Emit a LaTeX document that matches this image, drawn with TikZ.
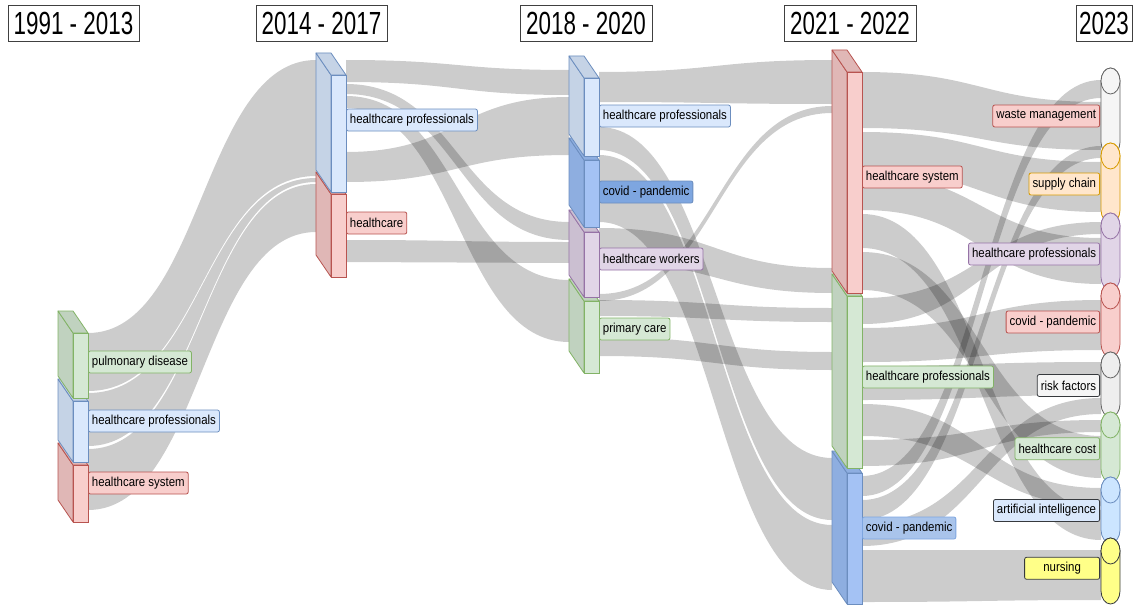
\documentclass[tikz,border=0pt]{standalone}
\usepackage{fontspec}
\setmainfont{Liberation Sans}
\newfontfamily\hdrfont[FakeStretch=0.70]{Liberation Sans}
\newfontfamily\lblfont[FakeStretch=0.88]{Liberation Sans}
\definecolor{hpF}{HTML}{DAE8FC}\definecolor{hpS}{HTML}{C5D3E6}\definecolor{hpD}{HTML}{6C8EBF}
\definecolor{rdF}{HTML}{F8CECC}\definecolor{rdS}{HTML}{E0B7B6}\definecolor{rdD}{HTML}{B85450}
\definecolor{gnF}{HTML}{D5E8D4}\definecolor{gnS}{HTML}{C0D2BF}\definecolor{gnD}{HTML}{82B366}
\definecolor{cvF}{HTML}{A4C2F4}\definecolor{cvS}{HTML}{8EAEE0}\definecolor{cvD}{HTML}{6C8EBF}
\definecolor{cvL}{HTML}{7EA6E0}\definecolor{cvL2}{HTML}{A9C4EB}
\definecolor{puF}{HTML}{E1D5E7}\definecolor{puS}{HTML}{CBBFD1}\definecolor{puD}{HTML}{9673A6}
\definecolor{wsF}{HTML}{F5F5F5}\definecolor{wsD}{HTML}{666666}
\definecolor{orF}{HTML}{FFE6CC}\definecolor{orD}{HTML}{D79B00}
\definecolor{rkF}{HTML}{EEEEEE}
\definecolor{aiF}{HTML}{CCE5FF}\definecolor{dkD}{HTML}{36393D}
\definecolor{ylF}{HTML}{FFFF88}
\tikzset{
  flowfill/.style={fill=black, fill opacity=0.2},
  lbl/.style={font=\lblfont\fontsize{13}{15}\selectfont, rounded corners=2pt, minimum height=22pt,
    inner xsep=3.5pt, inner ysep=0pt, line width=0.8pt, text=black},
  hdr/.style={font=\hdrfont\fontsize{32}{34}\selectfont, draw=black!75, fill=white, line width=0.9pt,
    minimum height=36pt, inner xsep=0pt, inner ysep=0pt}
}
% band from (x1, y1t..y1b) to (x2, y2t..y2b)
\newcommand{\flowband}[6]{%
  \fill[flowfill] (#1,#2) .. controls ({(#1+#4)/2},#2) and ({(#1+#4)/2},#5) .. (#4,#5)
    -- (#4,#6) .. controls ({(#1+#4)/2},#6) and ({(#1+#4)/2},#3) .. (#1,#3) -- cycle;}
% 3D bar: front x, top, bottom, front fill, side fill, border
\newcommand{\blockbar}[6]{%
  \filldraw[draw=#6, fill=#5, line width=0.8pt, line join=round] (#1-15,#2-22) -- (#1,#2) -- (#1,#3) -- (#1-15,#3-22) -- cycle;
  \filldraw[draw=#6, fill=#5, line width=0.8pt, line join=round] (#1-15,#2-22) -- (#1,#2-22) -- (#1+15,#2) -- (#1,#2) -- cycle;
  \filldraw[draw=#6, fill=#4, line width=0.8pt] (#1,#2) rectangle (#1+15,#3);}
% cylinder: top, bottom, fill, border
\newcommand{\cylbar}[4]{%
  \filldraw[fill=#3, draw=#4, line width=0.8pt] (1101,#1+13) -- (1101,#2-13)
    arc[start angle=180, end angle=360, x radius=9.5pt, y radius=13pt] -- (1120,#1+13)
    arc[start angle=0, end angle=180, x radius=9.5pt, y radius=13pt] -- cycle;
  \filldraw[fill=#3, draw=#4, line width=0.8pt] (1110.5,#1+13) ellipse[x radius=9.5pt, y radius=13pt];}
\begin{document}
\begin{tikzpicture}[x=1pt, y=-1pt]
\useasboundingbox (0,0) rectangle (1145,610);
\fill[white] (0,0) rectangle (1145,610);
% ---------- flows ----------
% 1991-2013 -> 2014-2017
\flowband{88}{333}{391}{316}{60}{176}
\flowband{88}{393}{446}{316}{178}{182}
\flowband{88}{449}{510}{316}{184}{232}
% 2014-2017 -> 2018-2020
\flowband{346}{60}{82}{569}{70}{95}
\flowband{346}{84}{94}{569}{222}{240}
\flowband{346}{96}{108}{569}{280}{342}
\flowband{346}{152}{182}{569}{97}{155}
\flowband{346}{240}{262}{569}{242}{263}
% 2018-2020 -> 2021-2022
\flowband{599}{72}{102}{832}{60}{104}
\flowband{599}{294}{301}{832}{106}{113}
\flowband{599}{127}{150}{832}{458}{520}
\flowband{599}{155}{222}{832}{525}{590}
\flowband{599}{228}{262}{832}{268}{293}
\flowband{599}{300}{316}{832}{308}{322}
\flowband{599}{337}{356}{832}{352}{370}
% 2021-2022 -> 2023
\flowband{862}{72}{128}{1101}{102}{150}
\flowband{862}{132}{170}{1101}{162}{212}
\flowband{862}{174}{210}{1101}{238}{284}
\flowband{862}{214}{248}{1101}{510}{540}
\flowband{862}{252}{290}{1101}{436}{478}
\flowband{862}{298}{324}{1101}{222}{234}
\flowband{862}{328}{362}{1101}{300}{350}
\flowband{862}{366}{400}{1101}{362}{395}
\flowband{862}{404}{436}{1101}{488}{506}
\flowband{862}{440}{466}{1101}{420}{432}
\flowband{862}{476}{496}{1101}{80}{98}
\flowband{862}{500}{520}{1101}{146}{158}
\flowband{862}{524}{546}{1101}{398}{414}
\flowband{862}{550}{602}{1101}{550}{600}
% ---------- bars ----------
\blockbar{73}{465}{522}{rdF}{rdS}{rdD}
\blockbar{73}{401}{462}{hpF}{hpS}{hpD}
\blockbar{73}{333}{398}{gnF}{gnS}{gnD}
\blockbar{331}{194}{277}{rdF}{rdS}{rdD}
\blockbar{331}{75}{192}{hpF}{hpS}{hpD}
\blockbar{584}{301}{373}{gnF}{gnS}{gnD}
\blockbar{584}{232}{297}{puF}{puS}{puD}
\blockbar{584}{160}{227}{cvF}{cvS}{cvD}
\blockbar{584}{78}{156}{hpF}{hpS}{hpD}
\blockbar{847}{473}{604}{cvF}{cvS}{cvD}
\blockbar{847}{296}{468}{gnF}{gnS}{gnD}
\blockbar{847}{72}{293}{rdF}{rdS}{rdD}
% cylinders
\cylbar{68}{155}{wsF}{wsD}
\cylbar{143}{223}{orF}{orD}
\cylbar{213}{290}{puF}{puD}
\cylbar{283}{357}{rdF}{rdD}
\cylbar{352}{417}{rkF}{wsD}
\cylbar{412}{482}{gnF}{gnD}
\cylbar{477}{543}{aiF}{hpD}
\cylbar{538}{604}{ylF}{dkD}
% ---------- labels ----------
\node[lbl, fill=gnF, draw=gnD, anchor=west] (a1) at (88,362) {pulmonary disease};
\node[lbl, fill=hpF, draw=hpD, anchor=west] (a2) at (88,421) {healthcare professionals};
\node[lbl, fill=rdF, draw=rdD, anchor=west] (a3) at (88,483) {healthcare system};
\node[lbl, fill=hpF, draw=hpD, anchor=west] (b1) at (346,120) {healthcare professionals};
\node[lbl, fill=rdF, draw=rdD, anchor=west] (b2) at (346,223) {healthcare};
\node[lbl, fill=hpF, draw=hpD, anchor=west] (c1) at (599,116) {healthcare professionals};
\node[lbl, fill=cvL, draw=cvD, anchor=west] (c2) at (599,192) {covid - pandemic};
\node[lbl, fill=puF, draw=puD, anchor=west] (c3) at (599,259) {healthcare workers};
\node[lbl, fill=gnF, draw=gnD, anchor=west] (c4) at (599,329) {primary care};
\node[lbl, fill=rdF, draw=rdD, anchor=west] (d1) at (862,177) {healthcare system};
\node[lbl, fill=gnF, draw=gnD, anchor=west] (d2) at (862,377) {healthcare professionals};
\node[lbl, fill=cvL2, draw=cvL, anchor=west] (d3) at (862,528) {covid - pandemic};
\node[lbl, fill=rdF, draw=rdD, anchor=east] (e1) at (1100,116) {waste management};
\node[lbl, fill=orF, draw=orD, anchor=east] (e2) at (1100,184) {supply chain};
\node[lbl, fill=puF, draw=puD, anchor=east] (e3) at (1100,254) {healthcare professionals};
\node[lbl, fill=rdF, draw=rdD, anchor=east] (e4) at (1100,322) {covid - pandemic};
\node[lbl, fill=wsF, draw=dkD, anchor=east] (e5) at (1100,385.5) {risk factors};
\node[lbl, fill=gnF, draw=gnD, anchor=east] (e6) at (1100,448.7) {healthcare cost};
\node[lbl, fill=hpF, draw=dkD, anchor=east] (e7) at (1100,510.5) {artificial intelligence};
\node[lbl, fill=ylF, draw=dkD, anchor=east, minimum width=75pt] (e8) at (1100,568.3) {nursing};
% ---------- headers ----------
\node[hdr, minimum width=131pt] (h1) at (73.5,23) {1991 - 2013};
\node[hdr, minimum width=131pt] (h2) at (321.5,23) {2014 - 2017};
\node[hdr, minimum width=132pt] (h3) at (586,23) {2018 - 2020};
\node[hdr, minimum width=132pt] (h4) at (850,23) {2021 - 2022};
\node[hdr, minimum width=56pt] (h5) at (1104,23) {2023};
\end{tikzpicture}
\end{document}
